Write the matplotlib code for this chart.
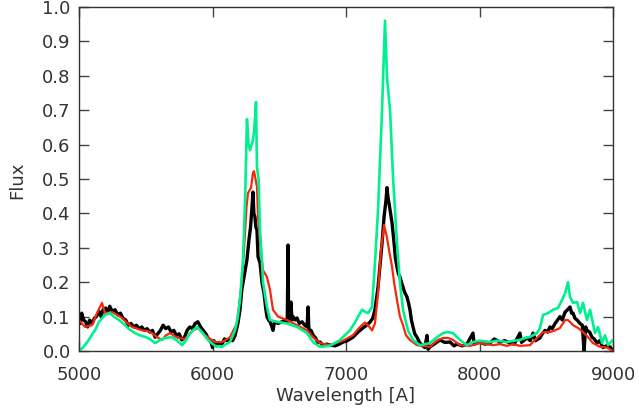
import numpy as np
import matplotlib
matplotlib.use('Agg')
import matplotlib.pyplot as plt

# values
wl_green = [5000, 5030, 5070, 5100, 5120, 5150, 5195, 5232, 5260, 5300, 5345, 5380, 5420, 5460,
            5495, 5530, 5570, 5610, 5645, 5697, 5735, 5772, 5800, 5830, 5860, 5884, 5921, 5966,
            6019, 6071, 6100, 6131, 6169, 6190, 6206, 6228, 6245, 6258, 6270, 6281, 6303, 6312,
            6326, 6333, 6345, 6356, 6371, 6378, 6408, 6431, 6483, 6558, 6633, 6708, 6753, 6805,
            6880, 6955, 7030, 7067, 7120, 7142, 7165, 7195, 7217, 7240, 7270, 7292, 7307, 7318,
            7330, 7352, 7382, 7404, 7427, 7464, 7502, 7554, 7629, 7680, 7727, 7757, 7802, 7854,
            7906, 7951, 8000, 8079, 8130, 8206, 8260, 8303, 8340, 8378, 8431, 8453, 8476, 8513,
            8551, 8588, 8618, 8641, 8663, 8678, 8701, 8731, 8753, 8775, 8805, 8828, 8865, 8888,
            8918, 8940, 8963, 8993]
fl_green = [0.0, 0.01, 0.03, 0.05, 0.06, 0.085, 0.105, 0.11, 0.10, 0.09, 0.075, 0.062, 0.052, 0.045,
            0.041, 0.035, 0.023, 0.032, 0.038, 0.04, 0.03, 0.017, 0.03, 0.052, 0.062, 0.07, 0.055, 0.032,
            0.015, 0.012, 0.02, 0.026, 0.06, 0.10, 0.15, 0.26, 0.45, 0.674, 0.60, 0.584, 0.613, 0.64,
            0.724, 0.535, 0.50, 0.35, 0.26, 0.2, 0.128, 0.09, 0.085, 0.08, 0.07, 0.052, 0.026, 0.012,
            0.015, 0.032, 0.06, 0.083, 0.12, 0.114, 0.11, 0.128, 0.256, 0.41, 0.70, 0.96, 0.797, 0.75,
            0.70, 0.506, 0.314, 0.2, 0.12, 0.06, 0.032, 0.017, 0.023, 0.04, 0.052, 0.055, 0.052, 0.032,
            0.017, 0.026, 0.03, 0.026, 0.03, 0.026, 0.03, 0.032, 0.038, 0.041, 0.052, 0.067, 0.105, 0.11,
            0.12, 0.125, 0.148, 0.168, 0.2, 0.157, 0.14, 0.142, 0.11, 0.14, 0.09, 0.12, 0.052, 0.07,
            0.023, 0.046, 0.017, 0.03]

wl_red = [5000, 5045, 5097, 5135, 5172, 5195, 5247, 5285, 5322, 5360, 5397, 5435, 5472, 5510,
          5547, 5585, 5622, 5650, 5682, 5710, 5742, 5794, 5830, 5854, 5891, 5944, 6019, 6071,
          6131, 6183, 6213, 6236, 6255, 6266, 6288, 6303, 6311, 6333, 6341, 6356, 6378, 6408,
          6431, 6453, 6491, 6558, 6633, 6708, 6753, 6805, 6880, 6978, 7052, 7105, 7142, 7165,
          7195, 7217, 7240, 7262, 7285, 7307, 7322, 7345, 7360, 7382, 7404, 7427, 7449, 7479,
          7532, 7629, 7680, 7727, 7764, 7802, 7854, 7929, 8004, 8050, 8101, 8150, 8206, 8250,
          8303, 8378, 8431, 8476, 8528, 8566, 8603, 8641, 8663, 8701, 8738, 8775, 8813, 8850,
          8903, 8955, 9000]
fl_red = [0.09, 0.07, 0.075, 0.11, 0.14, 0.11, 0.113, 0.105, 0.096, 0.082, 0.07, 0.065, 0.06, 0.058,
          0.052, 0.04, 0.032, 0.045, 0.052, 0.045, 0.038, 0.035, 0.05, 0.06, 0.067, 0.046, 0.026, 0.026,
          0.04, 0.08, 0.177, 0.294, 0.42, 0.459, 0.474, 0.517, 0.523, 0.477, 0.39, 0.314, 0.235, 0.215,
          0.177, 0.12, 0.1, 0.09, 0.075, 0.06, 0.04, 0.023, 0.017, 0.03, 0.046, 0.07, 0.083, 0.075,
          0.06, 0.08, 0.168, 0.294, 0.366, 0.33, 0.294, 0.245, 0.2, 0.148, 0.1, 0.075, 0.046, 0.032,
          0.017, 0.012, 0.03, 0.038, 0.038, 0.032, 0.017, 0.015, 0.023, 0.02, 0.017, 0.02, 0.015, 0.02,
          0.015, 0.017, 0.038, 0.055, 0.055, 0.06, 0.067, 0.09, 0.09, 0.075, 0.067, 0.055, 0.04, 0.023,
          0.012, 0.01, 0.0]

wl_black = [5000, 5010, 5020, 5035, 5050, 5065, 5080, 5100, 5115, 5130, 5150, 5165, 5180, 5200,
            5215, 5230, 5250, 5270, 5290, 5310, 5330, 5350, 5370, 5390, 5410, 5430, 5450, 5470,
            5490, 5510, 5530, 5550, 5570, 5590, 5610, 5630, 5650, 5670, 5690, 5710, 5730, 5750,
            5770, 5790, 5810, 5830, 5850, 5870, 5890, 5910, 5930, 5950, 5970, 5990, 6000, 6010,
            6030, 6050, 6070, 6090, 6110, 6131, 6150, 6169, 6190, 6206, 6220, 6236, 6258, 6273,
            6285, 6296, 6303, 6310, 6318, 6325, 6333, 6341, 6356, 6371, 6386, 6400, 6408, 6420,
            6431, 6445, 6453, 6465, 6491, 6520, 6543, 6560, 6566, 6570, 6580, 6588, 6595, 6603,
            6620, 6633, 6650, 6671, 6690, 6708, 6716, 6722, 6738, 6755, 6768, 6790, 6805, 6830,
            6855, 6880, 6920, 6950, 6978, 7010, 7052, 7090, 7127, 7155, 7180, 7200, 7217, 7240,
            7270, 7285, 7300, 7307, 7315, 7322, 7330, 7345, 7360, 7370, 7382, 7392, 7404, 7415,
            7427, 7440, 7457, 7468, 7479, 7490, 7502, 7515, 7532, 7550, 7569, 7590, 7607, 7615,
            7629, 7660, 7704, 7740, 7779, 7810, 7831, 7870, 7906, 7951, 7960, 8004, 8040, 8079,
            8110, 8154, 8190, 8229, 8260, 8303, 8315, 8356, 8380, 8401, 8420, 8453, 8470, 8491,
            8510, 8528, 8545, 8566, 8585, 8603, 8620, 8641, 8660, 8678, 8690, 8701, 8715, 8731,
            8753, 8770, 8783, 8795, 8805, 8825, 8843, 8860, 8880, 8900, 8925, 8950, 8978, 9000]
fl_black = [0.105, 0.08, 0.11, 0.09, 0.085, 0.07, 0.09, 0.08, 0.095, 0.10, 0.115, 0.10, 0.12, 0.125,
            0.11, 0.13, 0.115, 0.12, 0.105, 0.11, 0.095, 0.09, 0.075, 0.08, 0.07, 0.075, 0.065, 0.07,
            0.06, 0.065, 0.055, 0.06, 0.04, 0.05, 0.06, 0.075, 0.065, 0.07, 0.055, 0.06, 0.045, 0.05,
            0.032, 0.04, 0.06, 0.07, 0.065, 0.08, 0.085, 0.07, 0.06, 0.05, 0.035, 0.025, 0.01, 0.03,
            0.015, 0.025, 0.02, 0.035, 0.03, 0.032, 0.03, 0.045, 0.08, 0.12, 0.18, 0.215, 0.265, 0.323,
            0.36, 0.419, 0.462, 0.40, 0.39, 0.36, 0.352, 0.274, 0.256, 0.198, 0.168, 0.12, 0.1, 0.09,
            0.085, 0.07, 0.06, 0.085, 0.08, 0.085, 0.09, 0.085, 0.308, 0.09, 0.1, 0.142, 0.09, 0.1,
            0.09, 0.096, 0.08, 0.085, 0.075, 0.07, 0.128, 0.06, 0.06, 0.045, 0.04, 0.025, 0.026, 0.015,
            0.02, 0.017, 0.015, 0.02, 0.026, 0.03, 0.04, 0.055, 0.067, 0.075, 0.084, 0.095, 0.12, 0.186,
            0.314, 0.39, 0.44, 0.475, 0.445, 0.43, 0.41, 0.372, 0.314, 0.27, 0.244, 0.225, 0.215, 0.20,
            0.186, 0.17, 0.157, 0.14, 0.12, 0.09, 0.07, 0.05, 0.04, 0.025, 0.017, 0.01, 0.045, 0.005,
            0.012, 0.02, 0.032, 0.025, 0.026, 0.015, 0.02, 0.015, 0.02, 0.052, 0.02, 0.026, 0.02, 0.023,
            0.035, 0.026, 0.03, 0.023, 0.02, 0.052, 0.025, 0.038, 0.03, 0.052, 0.03, 0.038, 0.05, 0.06,
            0.055, 0.07, 0.065, 0.08, 0.09, 0.10, 0.09, 0.113, 0.12, 0.128, 0.11, 0.11, 0.095, 0.09,
            0.08, 0.075, 0.0, 0.07, 0.06, 0.055, 0.04, 0.035, 0.023, 0.03, 0.01, 0.015, 0.012, 0.0]

xticks = [5000, 6000, 7000, 8000, 9000]
yticks = np.arange(0, 11) / 10

plt.rcParams['font.family'] = ['DejaVu Sans']
fig = plt.figure(figsize=(6.39, 4.13), dpi=100)
ax = fig.add_axes([79/639, 62/413, 534/639, 344/413])

ax.plot(wl_black, fl_black, color='black', lw=2.4, solid_joinstyle='round')
ax.plot(wl_red, fl_red, color='#f5280a', lw=1.6)
ax.plot(wl_green, fl_green, color='#00f090', lw=1.9)

ax.set_xlim(5000, 9000)
ax.set_ylim(0, 1.0)
ax.set_xticks(xticks)
ax.set_yticks(yticks)
ax.set_yticklabels(['%.1f' % v for v in yticks])
ax.tick_params(direction='in', length=7, width=1, colors='#444444', labelsize=13,
               top=True, right=True)
ax.tick_params(axis='x', pad=11)
ax.tick_params(axis='y', pad=6)
for lab in ax.get_xticklabels() + ax.get_yticklabels():
    lab.set_color('#333333')
for s in ax.spines.values():
    s.set_color('#333333')
    s.set_linewidth(1)

fig.text(17/639, 1 - 180/413, 'Flux', rotation=90, ha='center', va='center',
         fontsize=13, color='#333333')
fig.text(346/639, 1 - 396/413, 'Wavelength [A]', ha='center', va='center',
         fontsize=13, color='#333333')

fig.savefig('out.png', dpi=100)
